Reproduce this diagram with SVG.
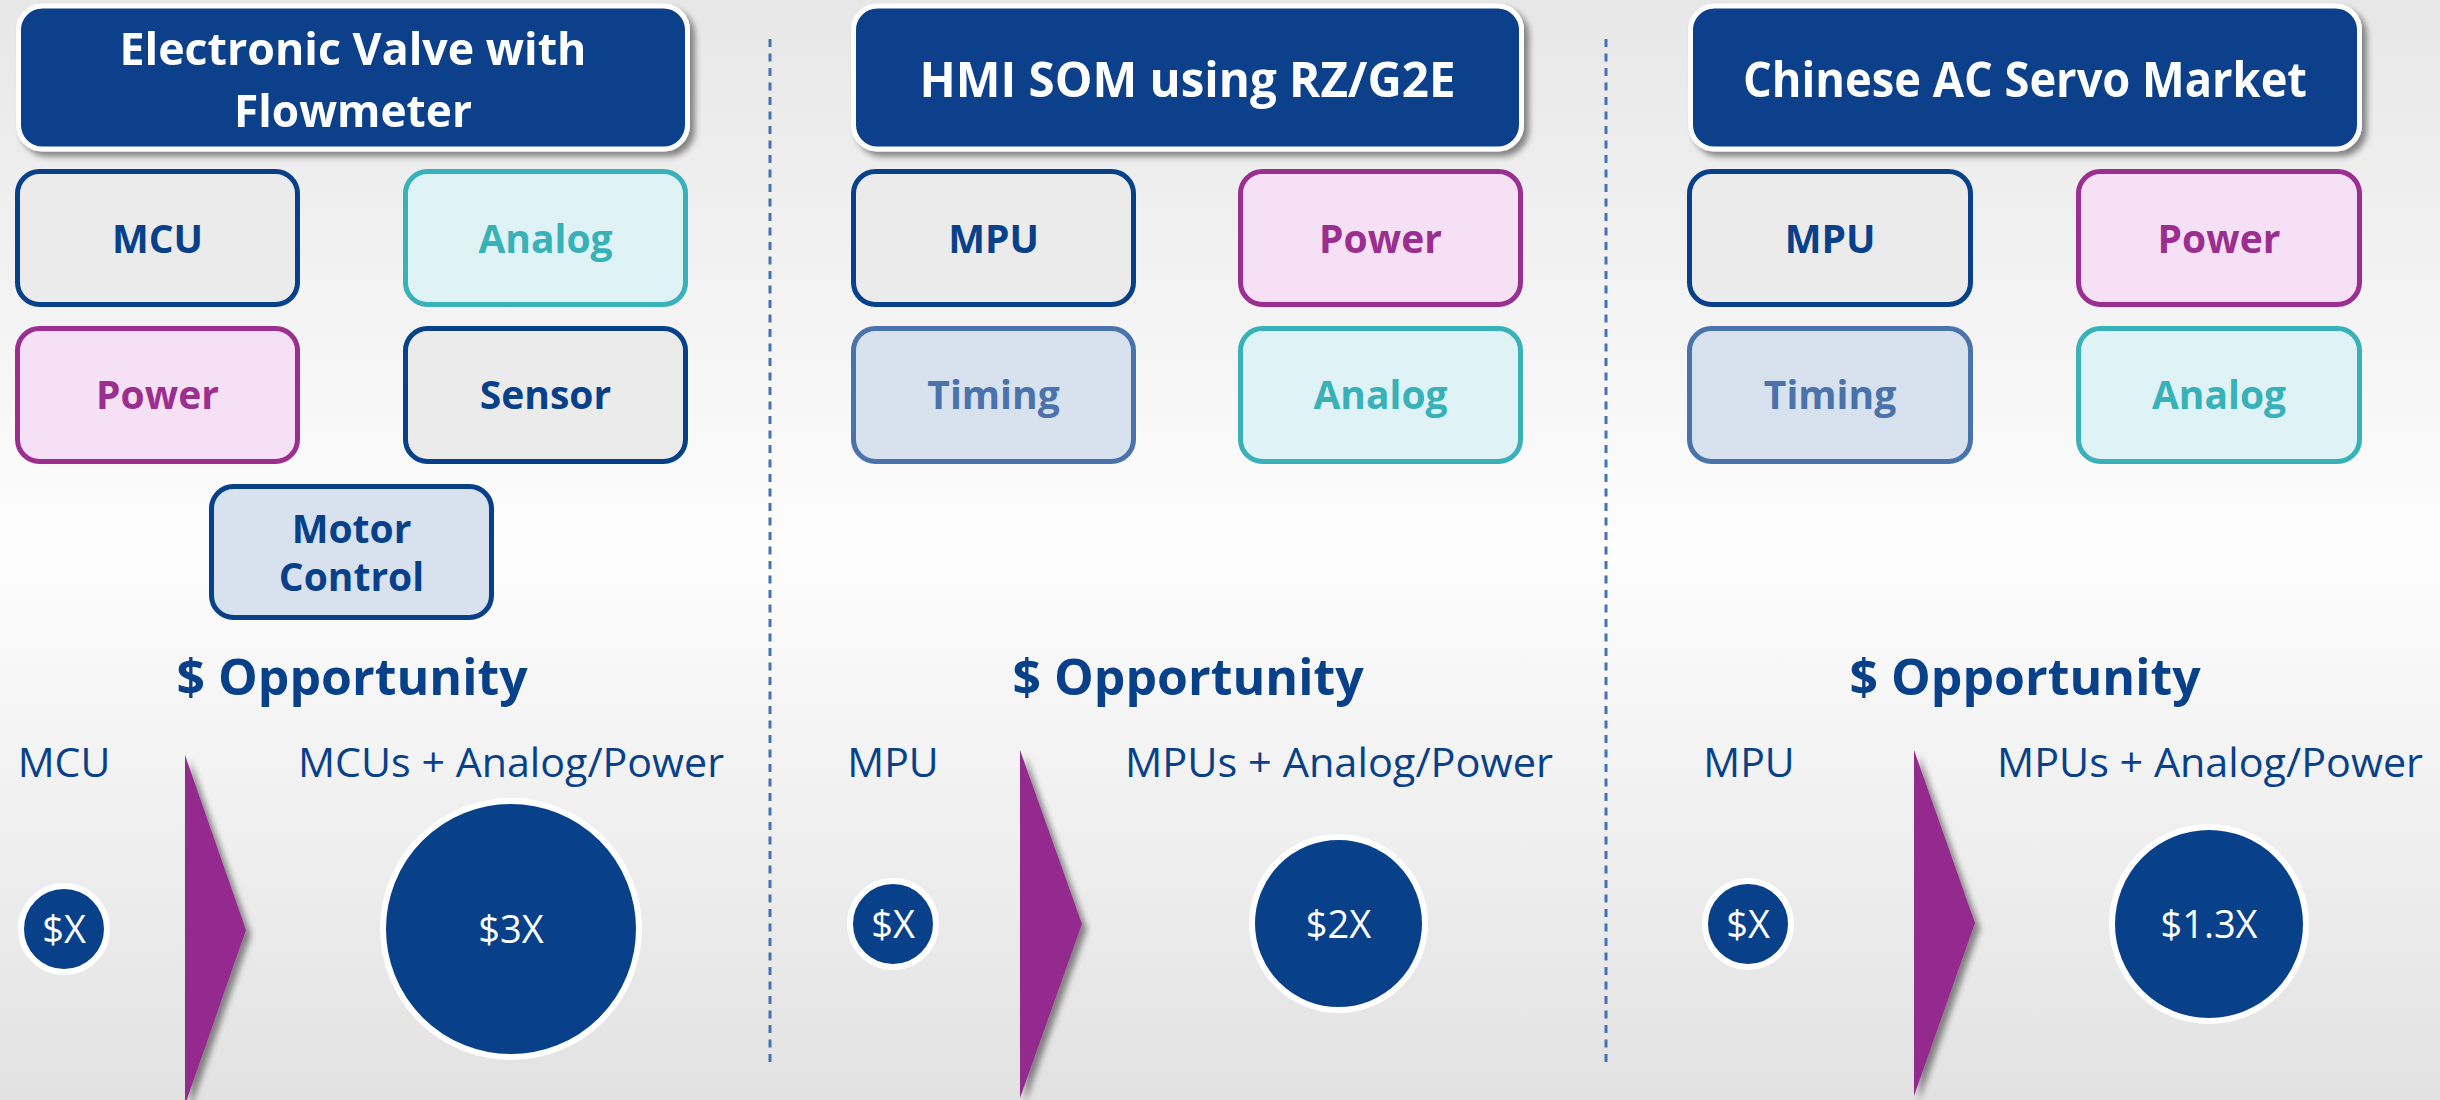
<svg xmlns="http://www.w3.org/2000/svg" width="2440" height="1100" viewBox="0 0 2440 1100">
<defs>
<linearGradient id="bg" x1="0" y1="0" x2="0" y2="1">
<stop offset="0" stop-color="#e7e7e7"/>
<stop offset="0.5" stop-color="#fdfdfd"/>
<stop offset="1" stop-color="#e2e2e2"/>
</linearGradient>
<filter id="shadow" x="-10%" y="-10%" width="130%" height="130%">
<feGaussianBlur in="SourceAlpha" stdDeviation="3"/>
<feOffset dx="5" dy="5" result="o"/>
<feComponentTransfer><feFuncA type="linear" slope="0.45"/></feComponentTransfer>
<feMerge><feMergeNode/><feMergeNode in="SourceGraphic"/></feMerge>
</filter>
<style>
.title rect{fill:#08418a;stroke:#fff;stroke-width:5}
.title text{fill:#fff;font-family:"Open Sans","Liberation Sans",sans-serif;font-weight:bold;font-size:48px;text-anchor:middle}
.title text.two{font-size:45px}
.box rect{stroke-width:5}
.box text{font-family:"Open Sans","Liberation Sans",sans-serif;font-weight:bold;font-size:39px;text-anchor:middle}
.gray rect{fill:#ebebeb;stroke:#08418a}.gray text{fill:#08418a}
.teal rect{fill:#dff3f6;stroke:#38b1b8}.teal text{fill:#38b1b8}
.pink rect{fill:#f6e0f5;stroke:#9b2f8f}.pink text{fill:#9b2f8f}
.blue rect{fill:#d8e2ee;stroke:#4a73ab}.blue text{fill:#4a73ab}
.blue2 rect{fill:#d8e2ee;stroke:#08418a}.blue2 text{fill:#08418a}
.opp{fill:#08418a;font-family:"Open Sans","Liberation Sans",sans-serif;font-weight:bold;font-size:50px;text-anchor:middle}
.lbl{fill:#08418a;font-family:"Open Sans","Liberation Sans",sans-serif;font-size:41px;text-anchor:middle}
.coin circle{fill:#08418a;stroke:#fff;stroke-width:6}
.coin text{fill:#fff;font-family:"Open Sans","Liberation Sans",sans-serif;font-size:38px;text-anchor:middle}
.arrow{fill:#952b8e}
.sep{stroke:#4472b4;stroke-width:3;stroke-dasharray:8 6.5;fill:none}
</style>
</defs>
<rect x="0" y="0" width="2440" height="1100" fill="url(#bg)"/>

<g id="connectors">
<line class="sep" x1="770" y1="39" x2="770" y2="1066"/>
<line class="sep" x1="1606" y1="39" x2="1606" y2="1066"/>
<polygon class="arrow" points="185,755 246,930 185,1105" filter="url(#shadow)"/>
<polygon class="arrow" points="1020,750 1082,924 1020,1098" filter="url(#shadow)"/>
<polygon class="arrow" points="1914,750 1975,923 1914,1096" filter="url(#shadow)"/>
</g>

<!-- Column 1 -->
<g id="title1" class="title" filter="url(#shadow)">
<rect x="18.5" y="6" width="669" height="143" rx="24"/>
<text class="two"><tspan x="353" y="65" textLength="467" lengthAdjust="spacingAndGlyphs">Electronic Valve with</tspan><tspan x="353" y="127" textLength="238" lengthAdjust="spacingAndGlyphs">Flowmeter</tspan></text>
</g>
<g id="mcu1" class="box gray"><rect x="17.5" y="171.5" width="280" height="133" rx="22"/><text x="157.5" y="253">MCU</text></g>
<g id="analog1" class="box teal"><rect x="405.5" y="171.5" width="280" height="133" rx="22"/><text x="545.5" y="253">Analog</text></g>
<g id="power1" class="box pink"><rect x="17.5" y="328.5" width="280" height="133" rx="22"/><text x="157.5" y="409">Power</text></g>
<g id="sensor1" class="box gray"><rect x="405.5" y="328.5" width="280" height="133" rx="22"/><text x="545.5" y="409">Sensor</text></g>
<g id="motor1" class="box blue2"><rect x="211.5" y="486.5" width="280" height="131" rx="22"/><text><tspan x="351.5" y="543">Motor</tspan><tspan x="351.5" y="591">Control</tspan></text></g>
<text id="opp1" class="opp" x="352" y="695">$ Opportunity</text>
<text id="lblA1" class="lbl" x="64" y="777">MCU</text>
<text id="lblB1" class="lbl" x="511" y="777" textLength="426" lengthAdjust="spacingAndGlyphs">MCUs + Analog/Power</text>
<g id="coinA1" class="coin"><circle cx="64" cy="929" r="43"/><text x="64" y="943">$X</text></g>
<g id="coinB1" class="coin"><circle cx="511" cy="929" r="128"/><text x="511" y="943">$3X</text></g>

<!-- Column 2 -->
<g id="title2" class="title" filter="url(#shadow)">
<rect x="853.5" y="6" width="668" height="143" rx="24"/>
<text x="1187.5" y="97" textLength="536" lengthAdjust="spacingAndGlyphs">HMI SOM using RZ/G2E</text>
</g>
<g id="mpu2" class="box gray"><rect x="853.5" y="171.5" width="280" height="133" rx="22"/><text x="993.5" y="253">MPU</text></g>
<g id="power2" class="box pink"><rect x="1240.5" y="171.5" width="280" height="133" rx="22"/><text x="1380.5" y="253">Power</text></g>
<g id="timing2" class="box blue"><rect x="853.5" y="328.5" width="280" height="133" rx="22"/><text x="993.5" y="409">Timing</text></g>
<g id="analog2" class="box teal"><rect x="1240.5" y="328.5" width="280" height="133" rx="22"/><text x="1380.5" y="409">Analog</text></g>
<text id="opp2" class="opp" x="1188" y="695">$ Opportunity</text>
<text id="lblA2" class="lbl" x="893" y="777">MPU</text>
<text id="lblB2" class="lbl" x="1339" y="777" textLength="428" lengthAdjust="spacingAndGlyphs">MPUs + Analog/Power</text>
<g id="coinA2" class="coin"><circle cx="893" cy="924" r="43"/><text x="893" y="938">$X</text></g>
<g id="coinB2" class="coin"><circle cx="1338.5" cy="923.5" r="86.5"/><text x="1338.5" y="937.5">$2X</text></g>

<!-- Column 3 -->
<g id="title3" class="title" filter="url(#shadow)">
<rect x="1690.5" y="6" width="669" height="143" rx="24"/>
<text x="2025" y="97" textLength="564" lengthAdjust="spacingAndGlyphs">Chinese AC Servo Market</text>
</g>
<g id="mpu3" class="box gray"><rect x="1689.5" y="171.5" width="281" height="133" rx="22"/><text x="1830" y="253">MPU</text></g>
<g id="power3" class="box pink"><rect x="2078.5" y="171.5" width="281" height="133" rx="22"/><text x="2219" y="253">Power</text></g>
<g id="timing3" class="box blue"><rect x="1689.5" y="328.5" width="281" height="133" rx="22"/><text x="1830" y="409">Timing</text></g>
<g id="analog3" class="box teal"><rect x="2078.5" y="328.5" width="281" height="133" rx="22"/><text x="2219" y="409">Analog</text></g>
<text id="opp3" class="opp" x="2025" y="695">$ Opportunity</text>
<text id="lblA3" class="lbl" x="1749" y="777">MPU</text>
<text id="lblB3" class="lbl" x="2210" y="777" textLength="426" lengthAdjust="spacingAndGlyphs">MPUs + Analog/Power</text>
<g id="coinA3" class="coin"><circle cx="1748" cy="924" r="43"/><text x="1748" y="938">$X</text></g>
<g id="coinB3" class="coin"><circle cx="2209" cy="924" r="97"/><text x="2209" y="938">$1.3X</text></g>
</svg>
